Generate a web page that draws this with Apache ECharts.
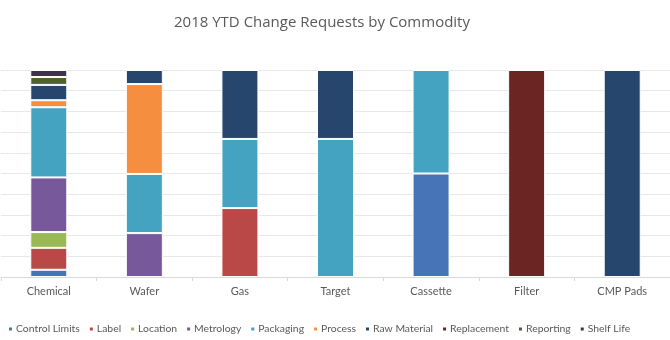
<!DOCTYPE html>
<html><head><meta charset="utf-8">
<script src="https://cdn.jsdelivr.net/npm/echarts@6/dist/echarts.min.js"></script>
<style>html,body{margin:0;padding:0;background:#fff}#c{width:670px;height:340px}</style>
</head><body><div id="c"></div>
<script>
var categories = ['Chemical','Wafer','Gas','Target','Cassette','Filter','CMP Pads'];
var seriesNames = ['Control Limits','Label','Location','Metrology','Packaging','Process','Raw Material','Replacement','Reporting','Shelf Life'];
// share of requests (%) per commodity
var controlLimits = [3.5, 0, 0, 0, 50, 0, 0];
var label        = [10.6, 0, 33.3, 0, 0, 0, 0];
var location_    = [7.6, 0, 0, 0, 0, 0, 0];
var metrology    = [26.4, 21.2, 0, 0, 0, 0, 0];
var packaging    = [33.9, 28.6, 33.4, 66.7, 50, 0, 0];
var process      = [3.4, 43.4, 0, 0, 0, 0, 0];
var rawMaterial  = [7.4, 6.8, 33.3, 33.3, 0, 0, 100];
var replacement  = [0, 0, 0, 0, 0, 100, 0];
var reporting    = [3.8, 0, 0, 0, 0, 0, 0];
var shelfLife    = [3.4, 0, 0, 0, 0, 0, 0];
var yTicks = [0,10,20,30,40,50,60,70,80,90,100];

var colors = ['#4674B6','#BA4846','#98B954','#77599B','#43A3C1','#F58E3E','#26466D','#6B2624','#4F6228','#3F3151'];
var data = [controlLimits,label,location_,metrology,packaging,process,rawMaterial,replacement,reporting,shelfLife];

var chart = echarts.init(document.getElementById('c'), null, {renderer:'canvas'});
var series = seriesNames.map(function(n,i){
  return {
    name:n, type:'bar', stack:'total', barWidth:37,
    data: data[i].map(function(v){return v===0?'-':v;}),
    itemStyle:{color:colors[i], borderColor:'#ffffff', borderWidth:1}
  };
});
chart.setOption({
  animation:false,
  color:colors,
  title:{text:'2018 YTD Change Requests by Commodity', left:169, top:10,
    textStyle:{fontFamily:'Open Sans', fontSize:15, fontWeight:'normal', color:'#595959'}},
  grid:{left:1, top:70, width:670, height:207, containLabel:false},
  legend:{left:2, top:319, itemWidth:5, itemHeight:5, itemGap:8, icon:'rect',
    textStyle:{fontFamily:'Lato', fontSize:10.4, color:'#595959', padding:[0,0,0,-2]},
    data:seriesNames},
  xAxis:{type:'category', data:categories,
    axisLine:{lineStyle:{color:'#d9d9d9'}},
    axisTick:{show:true, length:4, lineStyle:{color:'#d9d9d9'}},
    axisLabel:{fontFamily:'Lato', fontSize:11, color:'#595959', margin:9}},
  yAxis:{type:'value', min:0, max:100, interval:10, show:true,
    axisLabel:{show:false}, axisLine:{show:false}, axisTick:{show:false},
    splitLine:{lineStyle:{color:'#e8e8e8'}}},
  series:series
});
</script></body></html>
